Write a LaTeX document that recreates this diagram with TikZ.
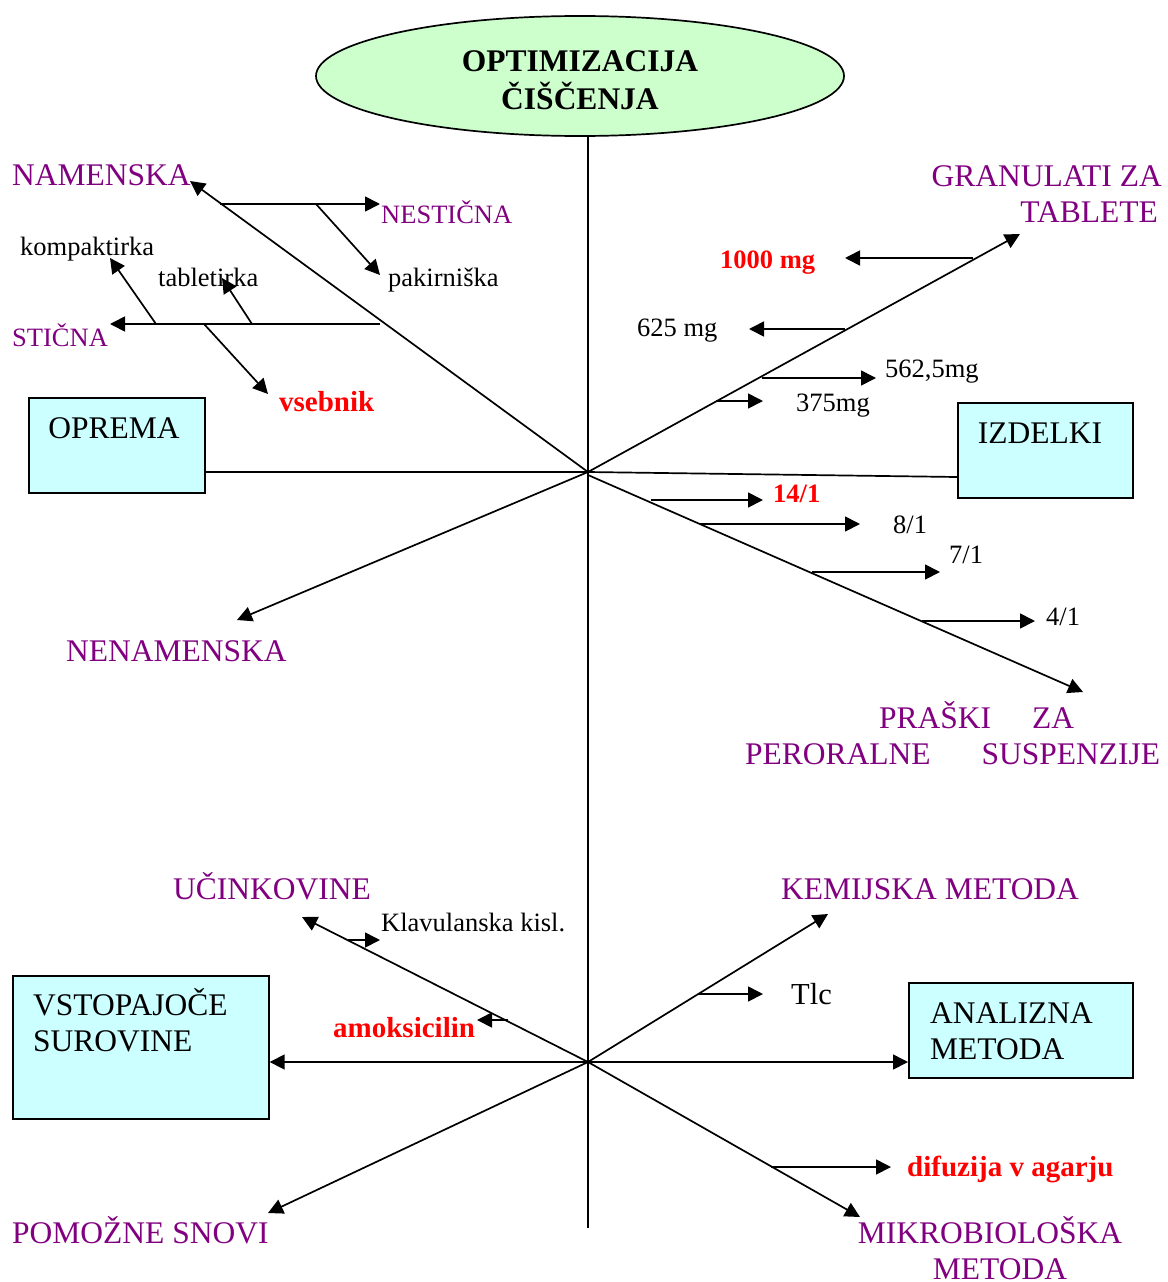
\documentclass[tikz,border=0pt]{standalone}
\usepackage{fontspec}
\setmainfont{Liberation Serif}
\usetikzlibrary{arrows.meta,shapes.geometric}
\definecolor{labelpurple}{RGB}{128,0,128}
\definecolor{boxcyan}{RGB}{204,255,255}
\definecolor{ovalgreen}{RGB}{204,255,204}
\definecolor{hotred}{RGB}{255,0,0}
% two stacked lines, the node baseline being that of the first one
\newcommand\twolines[3]{\begin{tabular}[t]{@{}#1@{}}#2\\#3\end{tabular}}

\begin{document}
\begin{tikzpicture}[x=1pt,y=-1pt,
  line/.style={line width=1.7pt},
  arr/.style={line width=1.7pt,-{Triangle[length=15pt,width=15pt]}},
  big/.style={font=\fontsize{31.5}{36.5}\selectfont},
  small/.style={font=\fontsize{26.5}{31}\selectfont},
  cat/.style={big,text=labelpurple,inner sep=0pt},
  subcat/.style={small,text=labelpurple,inner sep=0pt},
  item/.style={small,inner sep=0pt},
  hot/.style={font=\fontsize{29}{34}\selectfont\bfseries,text=hotred,inner sep=0pt},
  hotsmall/.style={font=\fontsize{26.5}{31}\selectfont\bfseries,text=hotred,inner sep=0pt},
  box/.style={draw,line width=1.7pt,fill=boxcyan,inner sep=0pt,anchor=north west},
  boxtext/.style={big,inner sep=0pt}
]
\useasboundingbox (0,0) rectangle (1167,1282);

% ---------- title and spine ----------
\node[ellipse,draw,line width=1.7pt,fill=ovalgreen,minimum width=528pt,minimum height=120pt,
      inner sep=0pt] (title) at (580,76) {};
\node[inner sep=0pt,align=center,font=\fontsize{31.5}{37}\selectfont\bfseries,anchor=base]
  (titletext) at (580,71) {\twolines{c}{OPTIMIZACIJA}{ČIŠČENJA}};
\coordinate (hubT) at (588,472);
\coordinate (hubB) at (588,1062);
\coordinate (spineend) at (588,1228);
\draw[line] (title.south -| hubT) -- (spineend);

% ---------- upper part: equipment and products ----------
\node[box,minimum width=176pt,minimum height=95pt] (oprema) at (28,397) {};
\node[boxtext,anchor=base] (opremat) at (114,438) {OPREMA};
\node[box,minimum width=175pt,minimum height=95pt] (izdelki) at (957,402) {};
\node[boxtext,anchor=base] (izdelkit) at (1040,443) {IZDELKI};
\coordinate (izdCon) at (957,477);
\draw[line] (oprema.east |- hubT) -- (hubT);
\draw[line] (hubT) -- (izdCon);

\coordinate (namTip) at (190,181);
\coordinate (granTip) at (1020,234);
\coordinate (nenTip) at (237,620);
\coordinate (prasTip) at (1083,692);
\coordinate (hubTlow) at (588,475);
\draw[arr] (hubT) -- (namTip);
\draw[arr] (hubT) -- (granTip);
\draw[arr] (hubT) -- (nenTip);
\draw[arr] (hubTlow) -- (prasTip);

% dedicated equipment
\coordinate (nsA) at (220,204); \coordinate (nsB) at (380,204);
\coordinate (pkA) at (316,204); \coordinate (pkB) at (380,275);
\draw[arr] (nsA) -- (nsB);
\draw[arr] (pkA) -- (pkB);
\coordinate (stA) at (380,324); \coordinate (stB) at (110,324);
\coordinate (kpA) at (156,324); \coordinate (kpB) at (110,258);
\coordinate (tbA) at (252,324); \coordinate (tbB) at (222,278);
\coordinate (vsA) at (204,324); \coordinate (vsB) at (268,394);
\draw[arr] (stA) -- (stB);
\draw[arr] (kpA) -- (kpB);
\draw[arr] (tbA) -- (tbB);
\draw[arr] (vsA) -- (vsB);

% granulates
\coordinate (g1A) at (973,258); \coordinate (g1B) at (845,258);
\coordinate (g2A) at (845,329); \coordinate (g2B) at (749,329);
\coordinate (g3A) at (762,378); \coordinate (g3B) at (876,378);
\coordinate (g4A) at (716,401); \coordinate (g4B) at (763,401);
\draw[arr] (g1A) -- (g1B);
\draw[arr] (g2A) -- (g2B);
\draw[arr] (g3A) -- (g3B);
\draw[arr] (g4A) -- (g4B);

% powders
\coordinate (p1A) at (651,500); \coordinate (p1B) at (763,500);
\coordinate (p2A) at (700,524); \coordinate (p2B) at (860,524);
\coordinate (p3A) at (812,572); \coordinate (p3B) at (940,572);
\coordinate (p4A) at (922,621); \coordinate (p4B) at (1035,621);
\draw[arr] (p1A) -- (p1B);
\draw[arr] (p2A) -- (p2B);
\draw[arr] (p3A) -- (p3B);
\draw[arr] (p4A) -- (p4B);

% upper labels
\node[cat,anchor=base west] (namenska) at (12,185) {NAMENSKA};
\node[subcat,anchor=base west] (nesticna) at (381,223) {NESTIČNA};
\node[item,anchor=base west] (pakirniska) at (388,286) {pakirniška};
\node[item,anchor=base west] (kompaktirka) at (20,255) {kompaktirka};
\node[item,anchor=base west] (tabletirka) at (158,286) {tabletirka};
\node[subcat,anchor=base west] (sticna) at (12,346) {STIČNA};
\node[hot,anchor=base west] (vsebnik) at (279,411) {vsebnik};
\node[cat,anchor=base west] (nenamenska) at (66,661) {NENAMENSKA};
\node[cat,anchor=base east] (granulati) at (1162,186) {\twolines{r}{GRANULATI ZA}{TABLETE\hspace*{4pt}}};
\node[hotsmall,anchor=base west] (m1000) at (720,268) {1000 mg};
\node[item,anchor=base west] (m625) at (637,336) {625 mg};
\node[item,anchor=base west] (m562) at (885,377) {562,5mg};
\node[item,anchor=base west] (m375) at (796,411) {375mg};
\node[hotsmall,anchor=base west] (r14) at (773,502) {14/1};
\node[item,anchor=base west] (r8) at (893,533) {8/1};
\node[item,anchor=base west] (r7) at (949,563) {7/1};
\node[item,anchor=base west] (r4) at (1046,625) {4/1};
\node[cat,anchor=base west] (praski) at (745,728)
  {\twolines{l}{\hspace*{134pt}PRAŠKI\hspace{41pt}ZA}{PERORALNE\hspace{51pt}SUSPENZIJE}};

% ---------- lower part: raw materials and analytical method ----------
\node[box,minimum width=256pt,minimum height=143pt] (vst) at (12,975) {};
\node[boxtext,anchor=base west] (vstt) at (33,1015) {\twolines{l}{VSTOPAJOČE}{SUROVINE}};
\node[box,minimum width=224pt,minimum height=95pt] (ana) at (908,982) {};
\node[boxtext,anchor=base west] (anat) at (930,1023) {\twolines{l}{ANALIZNA}{METODA}};

\draw[arr] (hubB) -- (vst.east |- hubB);
\draw[arr] (hubB) -- (ana.west |- hubB);

\coordinate (ucTip) at (302,917);
\coordinate (kemTip) at (828,914);
\coordinate (pomTip) at (268,1213);
\coordinate (mikTip) at (860,1217);
\draw[arr] (hubB) -- (ucTip);
\draw[arr] (hubB) -- (kemTip);
\draw[arr] (hubB) -- (pomTip);
\draw[arr] (hubB) -- (mikTip);

\coordinate (klA) at (348,940); \coordinate (klB) at (380,940);
\coordinate (amA) at (508,1020); \coordinate (amB) at (477,1020);
\coordinate (tlA) at (698,994); \coordinate (tlB) at (763,994);
\coordinate (dfA) at (771,1167); \coordinate (dfB) at (891,1167);
\draw[arr] (klA) -- (klB);
\draw[arr] (amA) -- (amB);
\draw[arr] (tlA) -- (tlB);
\draw[arr] (dfA) -- (dfB);

% lower labels
\node[cat,anchor=base west] (ucinkovine) at (173,899) {UČINKOVINE};
\node[item,anchor=base west] (klav) at (381,931) {Klavulanska kisl.};
\node[hot,anchor=base west] (amoks) at (333,1037) {amoksicilin};
\node[cat,anchor=base west] (pomozne) at (12,1243) {POMOŽNE SNOVI};
\node[cat,anchor=base west] (kemijska) at (781,899) {KEMIJSKA METODA};
\node[inner sep=0pt,font=\fontsize{30.5}{35}\selectfont,anchor=base west] (tlc) at (791,1004) {Tlc};
\node[hot,anchor=base west] (difuzija) at (907,1176) {difuzija v agarju};
\node[cat,anchor=base] (mikro) at (990,1243) {\twolines{c}{MIKROBIOLOŠKA}{\hspace*{20pt}METODA}};
\end{tikzpicture}
\end{document}
